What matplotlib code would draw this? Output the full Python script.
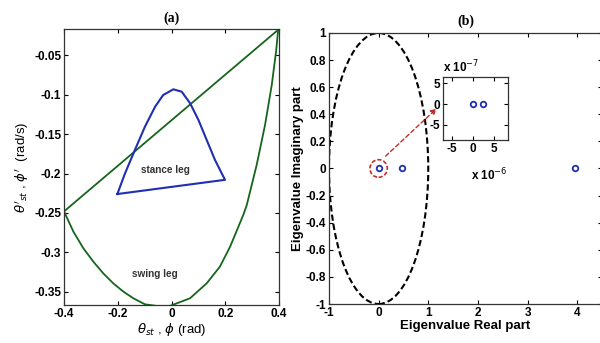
import matplotlib.pyplot as plt
import numpy as np
from matplotlib.patches import Ellipse
from matplotlib.ticker import FuncFormatter

plt.rcParams['font.family'] = ['Liberation Sans', 'DejaVu Sans']
plt.rcParams['mathtext.fontset'] = 'dejavusans'
plt.rcParams['axes.unicode_minus'] = False

# (a) phase portrait
swing_x = [-0.4, -0.365, -0.328, -0.291, -0.254, -0.217, -0.179, -0.142, -0.099, -0.055,
           -0.006, 0.069, 0.131, 0.18, 0.218, 0.249, 0.267, 0.28, 0.317, 0.348, 0.373,
           0.389, 0.397]
swing_y = [-0.248, -0.2737, -0.2947, -0.3116, -0.3264, -0.339, -0.3496, -0.358, -0.3656,
           -0.3677, -0.3677, -0.358, -0.339, -0.318, -0.2927, -0.2673, -0.2525, -0.24,
           -0.189, -0.1386, -0.088, -0.0458, -0.018]
line_x = [-0.4, 0.397]
line_y = [-0.248, -0.018]
stance_x = [-0.2015, -0.173, -0.136, -0.099, -0.061, -0.031, 0.007, 0.038, 0.069, 0.1,
            0.131, 0.162, 0.199, -0.2015]
stance_y = [-0.226, -0.1998, -0.17, -0.1408, -0.1154, -0.1006, -0.0934, -0.0964, -0.111,
            -0.132, -0.1576, -0.183, -0.208, -0.226]

# (b) eigenvalues
eig_re = [0.0, 0.48, 3.95]
eig_im = [0.0, 0.0, 0.0]
zoom_re = [0.0, 2.3e-6]
zoom_im = [0.0, 0.0]

green = '#15651c'
blue = '#1f2fb0'
red = '#c0302a'

fig = plt.figure(figsize=(6, 3.43), dpi=100)

ax1 = fig.add_axes([0.1067, 0.1108, 0.3583, 0.8047])
ax1.plot(swing_x, swing_y, color=green, lw=1.3)
ax1.plot(line_x, line_y, color=green, lw=1.3)
ax1.plot(stance_x, stance_y, color=blue, lw=1.5)
ax1.text(-0.024, -0.196, 'stance leg', fontsize=7.2, fontweight='bold', color='#333333',
         ha='center', va='center')
ax1.text(-0.061, -0.327, 'swing leg', fontsize=7.2, fontweight='bold', color='#333333',
         ha='center', va='center')
ax1.set_xlim(-0.4, 0.4)
ax1.set_ylim(-0.3665, -0.017)
ax1.set_xticks([-0.4, -0.2, 0, 0.2, 0.4])
ax1.set_xticklabels(['-0.4', '-0.2', '0', '0.2', '0.4'])
ax1.set_yticks([-0.35, -0.3, -0.25, -0.2, -0.15, -0.1, -0.05])
ax1.set_yticklabels(['-0.35', '-0.3', '-0.25', '-0.2', '-0.15', '-0.1', '-0.05'])
ax1.set_xlabel(r'$\theta_{st}$ , $\phi$ (rad)', fontsize=9.5, labelpad=1)
ax1.set_ylabel(r"$\theta'_{st}$ , $\phi'$  (rad/s)", fontsize=9.5, labelpad=2)
ax1.set_title('(a)', family='Liberation Serif', fontweight='bold', fontsize=10, pad=5)

ax2 = fig.add_axes([0.5483, 0.1137, 0.455, 0.7901])
ax2.add_patch(Ellipse((0, 0), 2, 2, fill=False, ec='black', lw=1.5, ls=(0, (3, 1.5))))
ax2.add_patch(Ellipse((0, 0), 0.35, 0.13, fill=False, ec=red, lw=1.2, ls=(0, (2.5, 1.2))))
ax2.plot(eig_re, eig_im, 'o', mfc='none', mec=blue, ms=4, mew=1.3)
ax2.annotate('', xy=(1.17, 0.443), xytext=(0.14, 0.091),
             arrowprops=dict(arrowstyle='-|>', color=red, lw=1.0, ls=(0, (3, 2)),
                             mutation_scale=8, shrinkA=0, shrinkB=0))
ax2.set_xlim(-1, 4.5)
ax2.set_ylim(-1, 1)
ax2.set_xticks([-1, 0, 1, 2, 3, 4])
ax2.set_yticks(np.round(np.arange(-1, 1.01, 0.2), 1))
ax2.set_yticklabels(['-1', '-0.8', '-0.6', '-0.4', '-0.2', '0', '0.2', '0.4', '0.6', '0.8', '1'])
ax2.set_xlabel('Eigenvalue Real part', fontsize=9.5, fontweight='bold', labelpad=1)
ax2.set_ylabel('Eigenvalue Imaginary part', fontsize=9.5, fontweight='bold', labelpad=1)
ax2.set_title('(b)', family='Liberation Serif', fontweight='bold', fontsize=10, pad=6)

ax3 = fig.add_axes([0.7383, 0.5918, 0.1083, 0.185])
ax3.plot(zoom_re, zoom_im, 'o', mfc='none', mec=blue, ms=4, mew=1.3)
ax3.set_xlim(-7e-6, 8.2e-6)
ax3.set_ylim(-8.6e-7, 6.6e-7)
ax3.set_xticks([-5e-6, 0, 5e-6])
ax3.set_yticks([-5e-7, 0, 5e-7])
ax3.xaxis.set_major_formatter(FuncFormatter(lambda v, p: '%g' % round(v / 1e-6)))
ax3.yaxis.set_major_formatter(FuncFormatter(lambda v, p: '%g' % round(v / 1e-7)))
ax3.text(0.0, 1.02, r'x 10$^{-7}$', transform=ax3.transAxes, fontsize=8.5,
         fontweight='bold', ha='left', va='bottom')
ax3.text(1.0, -0.42, r'x 10$^{-6}$', transform=ax3.transAxes, fontsize=8.5,
         fontweight='bold', ha='right', va='top')

for ax in (ax1, ax2, ax3):
    ax.tick_params(direction='in', top=True, right=True, length=3, width=0.8, pad=2)
    for lab in ax.get_xticklabels() + ax.get_yticklabels():
        lab.set_fontsize(8.5)
        lab.set_fontweight('bold')
    for s in ax.spines.values():
        s.set_linewidth(0.9)
        s.set_color('#333333')

fig.savefig('out.png', dpi=100)
